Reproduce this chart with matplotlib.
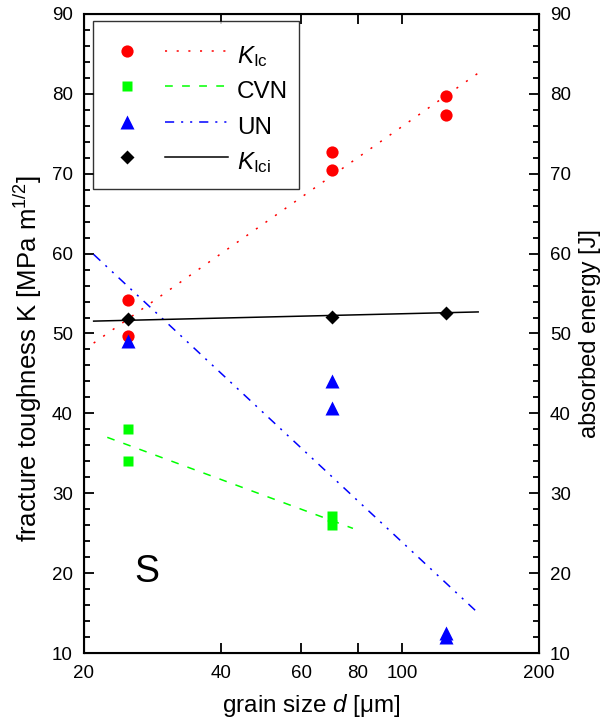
import matplotlib
matplotlib.use("Agg")
import matplotlib.pyplot as plt
from matplotlib.lines import Line2D
from matplotlib.ticker import FixedLocator, NullLocator, MultipleLocator, ScalarFormatter

plt.rcParams["font.family"] = ["Liberation Sans", "DejaVu Sans"]
plt.rcParams["mathtext.fontset"] = "custom"
plt.rcParams["mathtext.rm"] = "Liberation Sans"
plt.rcParams["mathtext.it"] = "Liberation Sans:italic"
plt.rcParams["lines.scale_dashes"] = False

# measured points (grain size in um)
kic_d = [25, 25, 70, 70, 125, 125]
kic = [54.2, 49.7, 72.7, 70.5, 79.7, 77.4]
cvn_d = [25, 25, 70, 70]
cvn = [38.1, 34.0, 27.2, 26.0]
un_d = [25, 70, 70, 125, 125]
un = [49.0, 44.1, 40.7, 12.5, 12.0]
kici_d = [25, 70, 125]
kici = [51.8, 52.1, 52.6]

# fit lines (end points)
fit_kic_d = [21, 147]
fit_kic = [48.8, 82.6]
fit_cvn_d = [22.5, 78]
fit_cvn = [37.0, 25.6]
fit_un_d = [21, 147]
fit_un = [59.9, 15.0]
fit_kici_d = [21, 147]
fit_kici = [51.55, 52.7]

x_ticks = [20, 40, 60, 80, 100, 200]
labels = [r"$K_{\mathrm{Ic}}$", "CVN", "UN", r"$K_{\mathrm{Ici}}$"]

dot = (0, (1.5, 6.9))
dash = (0, (5.6, 6.7))
dashdotdot = (0, (6.6, 5, 1.5, 5, 1.5, 5))


class MarkerThenLine:
    # legend entry: marker on the left, a short piece of line on the right
    def legend_artist(self, legend, orig_handle, fontsize, handlebox):
        mk, ln = orig_handle
        w = handlebox.width
        x0 = -handlebox.xdescent
        yc = (handlebox.height - handlebox.ydescent) / 2
        m = Line2D([x0 + 0.185 * w], [yc])
        m.update_from(mk)
        l = Line2D([x0 + 0.49 * w, x0 + w], [yc, yc])
        l.update_from(ln)
        for a in (l, m):
            a.set_transform(handlebox.get_transform())
            handlebox.add_artist(a)
        return l


fig = plt.figure(figsize=(6.06, 7.21), dpi=100)
ax = fig.add_axes([84 / 606, 1 - 653 / 721, 455 / 606, 639 / 721])

l1, = ax.plot(fit_kic_d, fit_kic, color="#ff0000", lw=1.1, ls=dot)
l2, = ax.plot(fit_cvn_d, fit_cvn, color="#00ff00", lw=1.1, ls=dash)
l3, = ax.plot(fit_un_d, fit_un, color="#0000ff", lw=1.1, ls=dashdotdot)
l4, = ax.plot(fit_kici_d, fit_kici, color="black", lw=1.1)

m1, = ax.plot(kic_d, kic, "o", color="#ff0000", ms=8.8, mec="none")
m2, = ax.plot(cvn_d, cvn, "s", color="#00ff00", ms=7.8, mec="none")
m3, = ax.plot(un_d, un, "^", color="#0000ff", ms=9.6, mec="none")
m4, = ax.plot(kici_d, kici, "D", color="black", ms=7.0, mec="none")

ax.set_xscale("log")
ax.set_xlim(20, 200)
ax.set_ylim(10, 90)
ax.xaxis.set_major_locator(FixedLocator(x_ticks))
ax.xaxis.set_minor_locator(NullLocator())
ax.xaxis.set_major_formatter(ScalarFormatter())
ax.yaxis.set_major_locator(MultipleLocator(10))
ax.yaxis.set_minor_locator(MultipleLocator(2))

ax.tick_params(which="both", direction="in", top=True, width=1.3)
ax.tick_params(which="major", length=7, labelsize=13.5)
ax.tick_params(which="minor", length=4)
ax.tick_params(axis="x", pad=9)
ax.tick_params(axis="y", pad=8)
for s in ax.spines.values():
    s.set_linewidth(1.5)

ax2 = ax.twinx()
ax2.set_ylim(10, 90)
ax2.yaxis.set_major_locator(MultipleLocator(10))
ax2.yaxis.set_minor_locator(MultipleLocator(2))
ax2.tick_params(which="both", direction="in", width=1.3)
ax2.tick_params(which="major", length=7, labelsize=13.5, pad=8)
ax2.tick_params(which="minor", length=4)
ax2.set_ylabel("absorbed energy [J]", fontsize=17, labelpad=6)

ax.set_xlabel("grain size $\\it{d}$ [\u03bcm]", fontsize=17.5, labelpad=7)
ax.set_ylabel("fracture toughness K [MPa m$^{1/2}$]", fontsize=18.5)
ax.yaxis.set_label_coords(-0.088, 0.46)

ax.text(25.8, 20.2, "S", fontsize=27, ha="left", va="center")

leg = ax.legend(
    [(m1, l1), (m2, l2), (m3, l3), (m4, l4)],
    labels,
    handler_map={tuple: MarkerThenLine()},
    loc="upper left",
    bbox_to_anchor=(9 / 455, (653 - 21) / 639),
    borderaxespad=0,
    fontsize=17.5,
    title=" ",
    title_fontsize=3,
    handlelength=5.1,
    handleheight=1.72,
    handletextpad=0.37,
    borderpad=0.45,
    labelspacing=0.1,
    fancybox=False,
    frameon=True,
)
leg.get_frame().set_edgecolor("black")
leg.get_frame().set_linewidth(1.0)

fig.savefig("out.png", dpi=100)
